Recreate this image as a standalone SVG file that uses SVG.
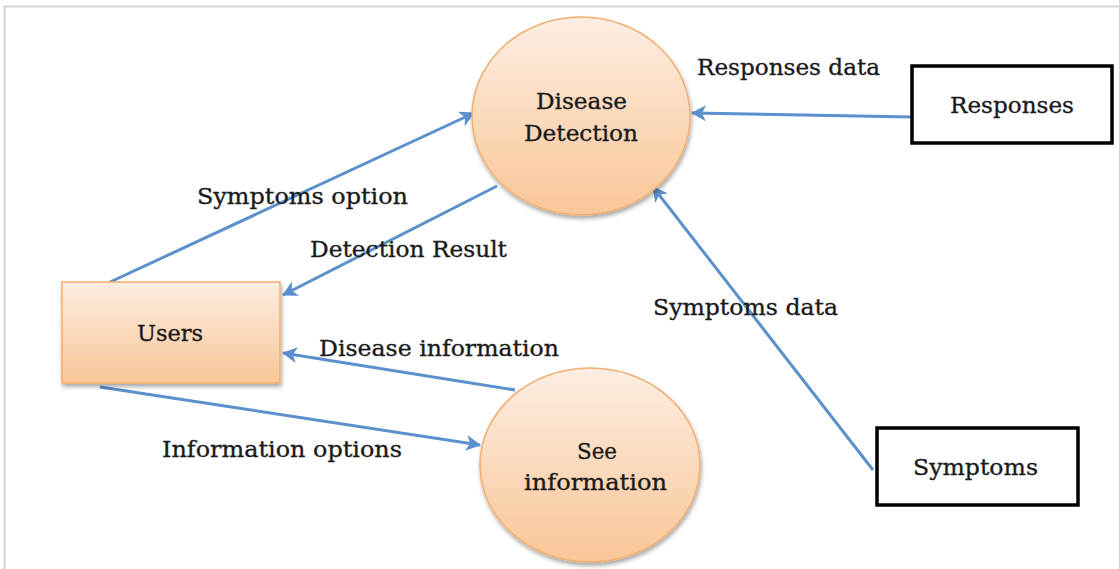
<svg xmlns="http://www.w3.org/2000/svg" width="1119" height="569" viewBox="0 0 1119 569">
<style>
.lbl{font-family:"DejaVu Serif","Liberation Serif",serif;font-size:23px;fill:#1a1a1a;stroke:#1a1a1a;stroke-width:0.35;}
.flow{stroke:#5B90CC;stroke-width:3;fill:none;marker-end:url(#ah);}
.proc{fill:url(#og);stroke:#F2AE6E;stroke-width:1.5;filter:url(#sh);}
.ext{fill:#fff;stroke:#000;stroke-width:3.5;}
</style>
<defs>
<linearGradient id="og" x1="0" y1="0" x2="0" y2="1">
<stop offset="0" stop-color="#FDEEE2"/>
<stop offset="1" stop-color="#F9C697"/>
</linearGradient>
<filter id="sh" x="-10%" y="-10%" width="125%" height="125%">
<feGaussianBlur in="SourceAlpha" stdDeviation="2"/>
<feOffset dx="1" dy="3"/>
<feComponentTransfer><feFuncA type="linear" slope="0.35"/></feComponentTransfer>
<feMerge><feMergeNode/><feMergeNode in="SourceGraphic"/></feMerge>
</filter>
<marker id="ah" markerWidth="18" markerHeight="18" viewBox="0 0 18 18" refX="15" refY="9" orient="auto" markerUnits="userSpaceOnUse">
<path d="M1,1 L16,9 L1,17 L5,9 z" fill="#5B90CC"/>
</marker>
</defs>
<rect x="0" y="0" width="1119" height="569" fill="#fff"/>
<path d="M4.5,569 V6.5 H1119" fill="none" stroke="#d4d4d4" stroke-width="2"/>
<g id="connectors">
<line class="flow" x1="108" y1="283" x2="474" y2="113"/>
<line class="flow" x1="497" y1="186" x2="283" y2="295"/>
<line class="flow" x1="515" y1="390" x2="283" y2="353"/>
<line class="flow" x1="100" y1="387" x2="480" y2="445"/>
<line class="flow" x1="912" y1="117" x2="692" y2="113"/>
<line class="flow" x1="873" y1="470" x2="653" y2="187"/>
</g>
<g id="labels">
<text class="lbl" x="197" y="204" textLength="211" lengthAdjust="spacingAndGlyphs">Symptoms option</text>
<text class="lbl" x="310" y="257" textLength="197" lengthAdjust="spacingAndGlyphs">Detection Result</text>
<text class="lbl" x="319" y="356" textLength="240" lengthAdjust="spacingAndGlyphs">Disease information</text>
<text class="lbl" x="162" y="457" textLength="240" lengthAdjust="spacingAndGlyphs">Information options</text>
<text class="lbl" x="697" y="75" textLength="183" lengthAdjust="spacingAndGlyphs">Responses data</text>
<text class="lbl" x="653" y="315" textLength="185" lengthAdjust="spacingAndGlyphs">Symptoms data</text>
</g>
<g id="disease-detection">
<ellipse class="proc" cx="581" cy="116" rx="109" ry="99"/>
<text class="lbl" x="536" y="109" textLength="91" lengthAdjust="spacingAndGlyphs">Disease</text>
<text class="lbl" x="524" y="141" textLength="114" lengthAdjust="spacingAndGlyphs">Detection</text>
</g>
<g id="see-information">
<ellipse class="proc" cx="590" cy="465" rx="110" ry="97"/>
<text class="lbl" x="577" y="459" textLength="40" lengthAdjust="spacingAndGlyphs">See</text>
<text class="lbl" x="524" y="490" textLength="143" lengthAdjust="spacingAndGlyphs">information</text>
</g>
<g id="users">
<rect class="proc" x="62" y="282" width="218" height="101"/>
<text class="lbl" x="137" y="341" textLength="66" lengthAdjust="spacingAndGlyphs">Users</text>
</g>
<g id="responses">
<rect class="ext" x="912" y="66" width="200" height="77"/>
<text class="lbl" x="950" y="113" textLength="124" lengthAdjust="spacingAndGlyphs">Responses</text>
</g>
<g id="symptoms">
<rect class="ext" x="877" y="428" width="201" height="77"/>
<text class="lbl" x="913" y="475" textLength="125" lengthAdjust="spacingAndGlyphs">Symptoms</text>
</g>
</svg>
